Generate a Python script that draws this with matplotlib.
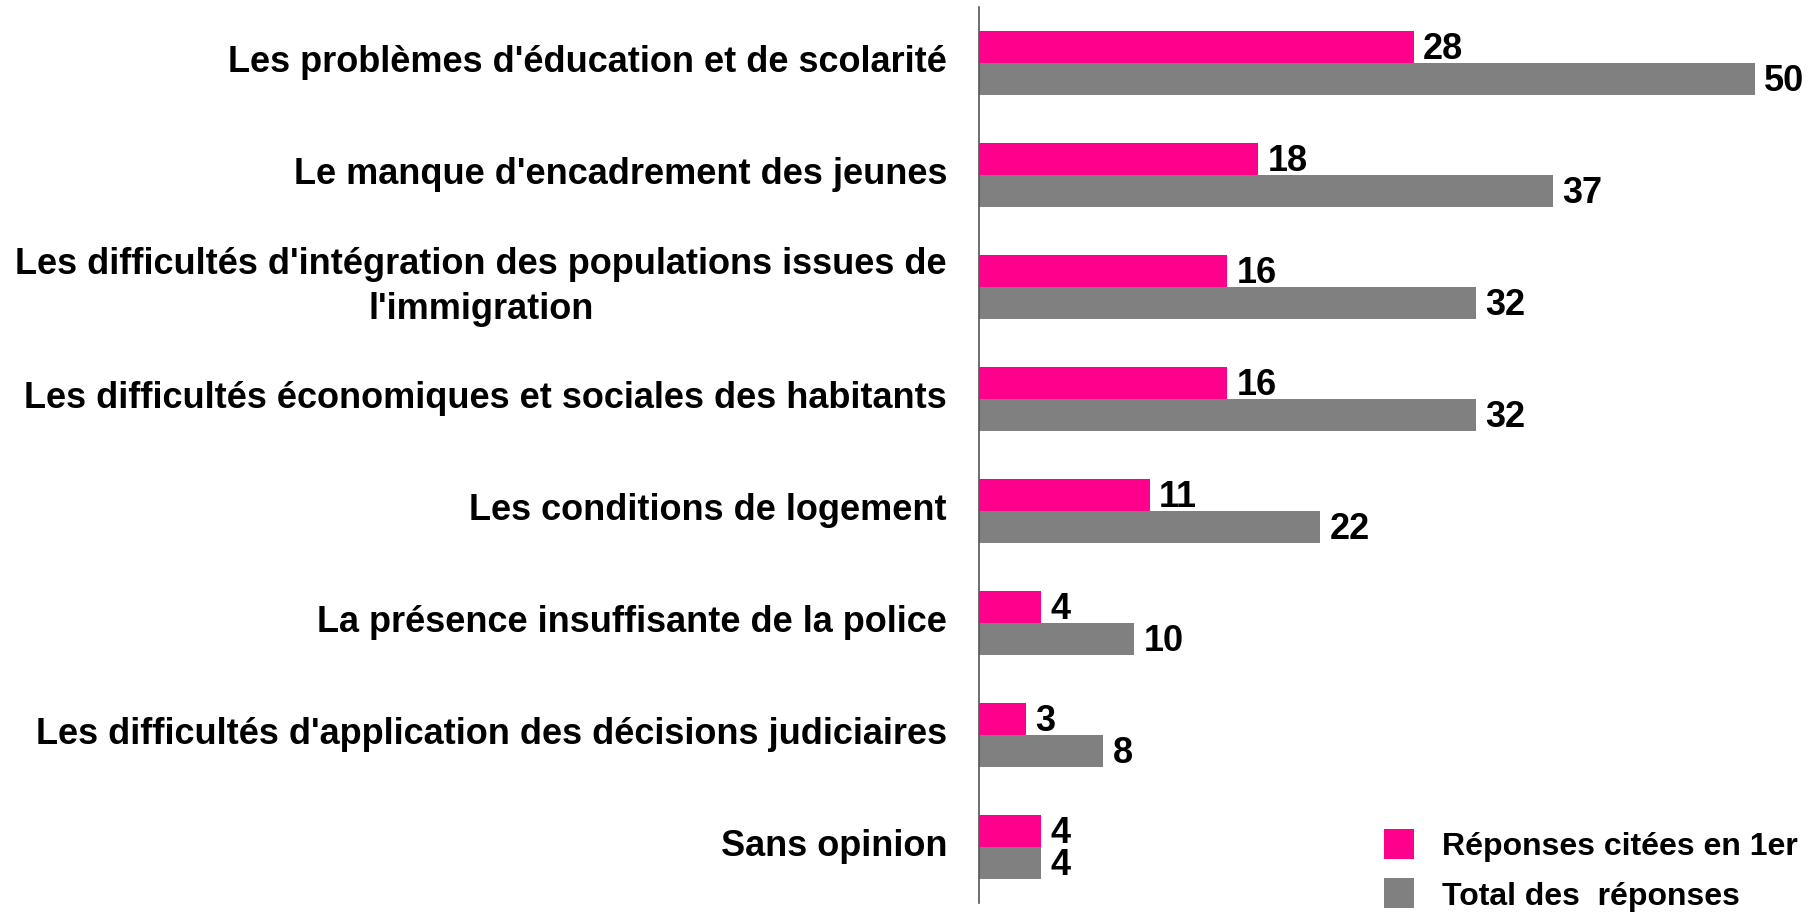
import matplotlib.pyplot as plt
from matplotlib.lines import Line2D

plt.rcParams['font.family'] = ['Liberation Sans', 'DejaVu Sans']

categories = [
    "Les problèmes d'éducation et de scolarité",
    "Le manque d'encadrement des jeunes",
    "Les difficultés d'intégration des populations issues de\nl'immigration",
    "Les difficultés économiques et sociales des habitants",
    "Les conditions de logement",
    "La présence insuffisante de la police",
    "Les difficultés d'application des décisions judiciaires",
    "Sans opinion",
]
first_cited = [28, 18, 16, 16, 11, 4, 3, 4]
total = [50, 37, 32, 32, 22, 10, 8, 4]
legend_labels = ["Réponses citées en 1er", "Total des  réponses"]

pink = '#FF008C'
grey = '#808080'

fig = plt.figure(figsize=(18.16, 9.18), dpi=100)
ax = fig.add_axes([979 / 1816, 15 / 918, 1 - 979 / 1816, 896 / 918])

h = 0.286
pos = list(range(len(categories)))
ax.barh([p - h / 2 for p in pos], first_cited, height=h, color=pink)
ax.barh([p + h / 2 for p in pos], total, height=h, color=grey)

for p, v in zip(pos, first_cited):
    ax.text(v + 0.6, p - h / 2 - 0.01, str(v), ha='left', va='center_baseline',
            fontsize=26, fontweight='bold')
for p, v in zip(pos, total):
    ax.text(v + 0.6, p + h / 2 - 0.01, str(v), ha='left', va='center_baseline',
            fontsize=26, fontweight='bold')

for p, lab in zip(pos, categories):
    ax.text(-2.06, p, lab, ha='right', va='center', multialignment='center',
            fontsize=26, fontweight='bold', linespacing=1.35)

ax.set_xlim(0, 53.93)
ax.set_ylim(7.5, -0.5)
ax.set_xticks([])
ax.set_yticks([])
for s in ['top', 'right', 'bottom']:
    ax.spines[s].set_visible(False)
ax.spines['left'].set_color('#555555')
ax.spines['left'].set_linewidth(1.2)

# square markers so the boxes keep their size whatever the row pitch
handles = [Line2D([], [], marker='s', linestyle='none', markersize=22.3,
                  markerfacecolor=c, markeredgewidth=0) for c in (pink, grey)]
fig.legend(handles=handles, labels=legend_labels, loc='center left',
           bbox_to_anchor=(1383 / 1816, 1 - 872 / 918), frameon=False,
           borderpad=0, borderaxespad=0, handlelength=1.0, handleheight=0.7,
           handletextpad=0.85, labelspacing=0.6,
           prop={'size': 23, 'weight': 'bold'})

fig.savefig('out.png', dpi=100)
